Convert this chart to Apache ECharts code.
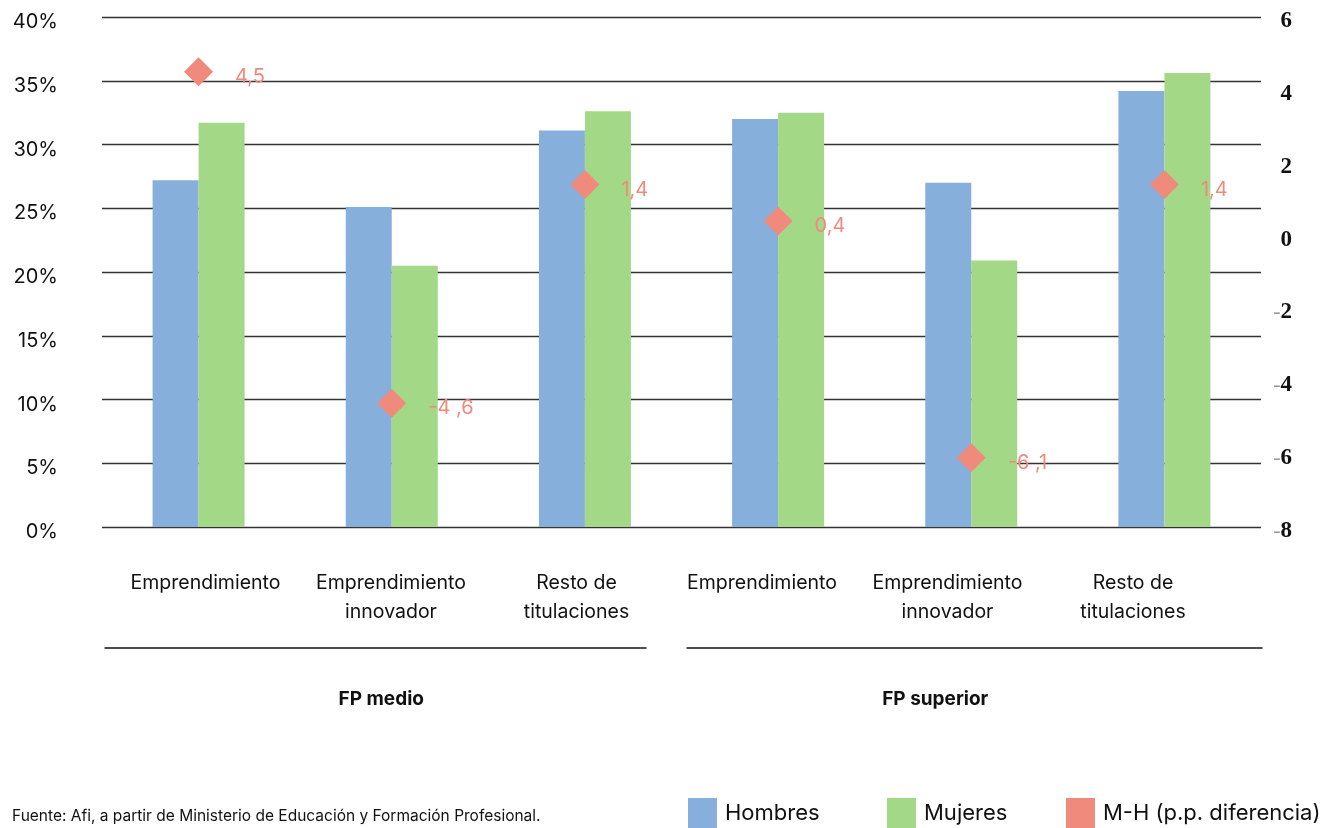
<!DOCTYPE html>
<html><head><meta charset="utf-8">
<script src="https://cdn.jsdelivr.net/npm/echarts@6/dist/echarts.min.js"></script>
<style>html,body{margin:0;padding:0;background:#fff}#c{width:1334px;height:828px}</style>
</head><body><div id="c"></div>
<script>
const categories = ['Emprendimiento', 'Emprendimiento\ninnovador', 'Resto de\ntitulaciones', 'Emprendimiento', 'Emprendimiento\ninnovador', 'Resto de\ntitulaciones'];
const groups = ['FP medio', 'FP superior'];
const hombres = [27.2, 25.1, 31.1, 32.0, 27.0, 34.2];
const mujeres = [31.7, 20.5, 32.6, 32.5, 20.9, 35.6];
const diferencia = [4.5, -4.6, 1.4, 0.4, -6.1, 1.4];
const diffLabels = ['4,5', '-4 ,6', '1,4', '0,4', '-6 ,1', '1,4'];
const seriesNames = ['Hombres', 'Mujeres', 'M-H (p.p. diferencia)'];
const source = 'Fuente: Afi, a partir de Ministerio de Educación y Formación Profesional.';

const FONT = 'Inter';
const BLUE = '#86AFDC', GREEN = '#A2D886', SALMON = '#F08A7C';
const chart = echarts.init(document.getElementById('c'), null, {renderer: 'canvas'});
const legendText = {fontFamily: FONT, fontSize: 22, color: '#111', padding: [2, 0, 0, 3]};
const mkLegend = (i, left) => ({
  left: left, top: 798, padding: 0, itemWidth: 29, itemHeight: 31, icon: 'rect',
  data: [seriesNames[i]], textStyle: legendText, selectedMode: false
});
const option = {
  animation: false,
  grid: [
    {left: 102, right: 73, top: 17, bottom: 301, containLabel: false},
    // label grid: category labels in the reference sit on a slightly narrower spacing
    {left: 112.75, right: 108.25, top: 17, bottom: 301, containLabel: false}
  ],
  legend: [mkLegend(0, 688), mkLegend(1, 887), mkLegend(2, 1066)],
  xAxis: [
    {type: 'category', data: categories, gridIndex: 0,
     axisLine: {show: false}, axisTick: {show: false}, axisLabel: {show: false}},
    {type: 'category', data: categories, gridIndex: 1,
     axisLine: {show: false}, axisTick: {show: false},
     axisLabel: {fontFamily: FONT, fontSize: 19.5, color: '#111', lineHeight: 29, margin: 42, interval: 0}}
  ],
  yAxis: [
    {type: 'value', min: 0, max: 40, interval: 5, position: 'left', gridIndex: 0,
     axisLine: {show: false}, axisTick: {show: false},
     axisLabel: {formatter: v => v + '%', fontFamily: FONT, fontSize: 20, color: '#111', margin: 44,
       verticalAlign: 'top', lineHeight: 10},
     splitLine: {show: true, lineStyle: {color: '#333', width: 1.4}}},
    {type: 'value', min: -8, max: 6, interval: 2, position: 'right', gridIndex: 0,
     axisLine: {show: false}, axisTick: {show: false}, splitLine: {show: false},
     axisLabel: {
       align: 'right', margin: 31, padding: [8, 0, 0, 0],
       formatter: v => v < 0 ? '{m|-}{n|' + Math.abs(v) + '}' : '{n|' + v + '}',
       rich: {
         m: {fontFamily: 'Liberation Serif', fontSize: 22, color: '#999'},
         n: {fontFamily: 'Liberation Serif', fontSize: 23, fontWeight: 'bold', color: '#111'}
       }
     }},
    {type: 'value', min: 0, max: 40, gridIndex: 1, show: false}
  ],
  series: [
    {name: seriesNames[0], type: 'bar', data: hombres, barWidth: 46, barGap: '0%',
     itemStyle: {color: BLUE}},
    {name: seriesNames[1], type: 'bar', data: mujeres, barWidth: 46, barGap: '0%',
     itemStyle: {color: GREEN}},
    {name: seriesNames[2], type: 'scatter', yAxisIndex: 1, data: diferencia, z: 5,
     symbol: 'diamond', symbolSize: 29, itemStyle: {color: SALMON, opacity: 1},
     label: {show: true, position: 'right', distance: 22, offset: [0, 5],
       formatter: p => diffLabels[p.dataIndex],
       fontFamily: FONT, fontSize: 20, color: SALMON, opacity: 1}}
  ]
};
chart.setOption(option);

// group separators and labels, positioned from the category axis
const c0 = chart.convertToPixel({xAxisIndex: 0}, 0);
const c1 = chart.convertToPixel({xAxisIndex: 0}, 1);
const step = c1 - c0;
const leftEdge = c0 - step / 2;
const mid = leftEdge + step * 3;
const rightEdge = leftEdge + step * 6;
const lineY = 648;
chart.setOption({
  graphic: [
    {type: 'line', shape: {x1: leftEdge + 2.5, y1: lineY, x2: mid - 35, y2: lineY}, style: {stroke: '#111', lineWidth: 1.3}},
    {type: 'line', shape: {x1: mid + 5, y1: lineY, x2: rightEdge + 1.5, y2: lineY}, style: {stroke: '#111', lineWidth: 1.3}},
    {type: 'text', x: c1 - 10.5, y: 699, style: {text: groups[0], font: 'bold 19px ' + FONT, fill: '#111', textAlign: 'center', textVerticalAlign: 'middle'}},
    {type: 'text', x: c1 + step * 3 - 36, y: 699, style: {text: groups[1], font: 'bold 19px ' + FONT, fill: '#111', textAlign: 'center', textVerticalAlign: 'middle'}},
    {type: 'text', x: 12, y: 816, style: {text: source, font: '15.5px ' + FONT, fill: '#111', textVerticalAlign: 'middle'}}
  ]
});
</script></body></html>
